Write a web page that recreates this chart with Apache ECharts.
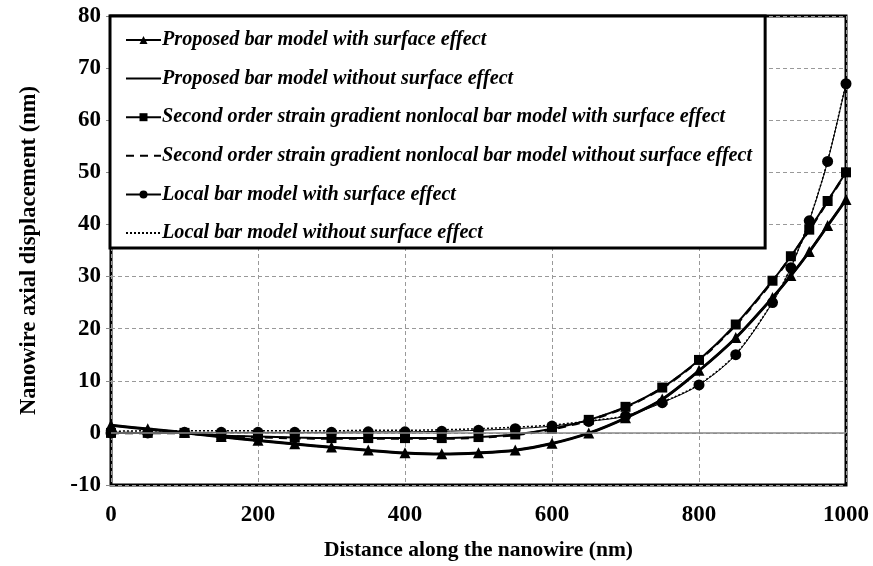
<!DOCTYPE html>
<html lang="en">
<head>
    <meta charset="UTF-8">
    <title>Nanowire axial displacement</title>
    <script src="https://cdn.jsdelivr.net/npm/echarts@6/dist/echarts.min.js"></script>
    <style>
        html, body { margin: 0; padding: 0; background: #fff; }
        #main { width: 873px; height: 566px; }
    </style>
</head>
<body>
<div id="main"></div>
<script>
    // positions along the wire (nm)
    var xs = [0, 50, 100, 150, 200, 250, 300, 350, 400, 450, 500, 550, 600, 650, 700, 750, 800, 850, 900, 925, 950, 975, 1000];

    // displacements (nm)
    var propWith    = [1.5, 0.8, 0.1, -0.7, -1.4, -2.1, -2.7, -3.3, -3.8, -4.0, -3.8, -3.3, -2.0, 0.0, 2.9, 6.5, 12.0, 18.3, 26.0, 30.2, 34.8, 39.8, 44.8];
    var propWithout = [1.4, 0.7, 0.0, -0.8, -1.5, -2.2, -2.8, -3.4, -3.9, -4.1, -3.9, -3.4, -2.1, -0.1, 2.8, 6.4, 11.9, 18.2, 25.9, 30.1, 34.7, 39.7, 44.7];
    var sogWith     = [0.0, 0.0, 0.0, -0.5, -0.7, -0.9, -1.0, -1.0, -1.0, -1.0, -0.8, -0.3, 0.8, 2.5, 5.0, 8.7, 14.0, 20.8, 29.2, 33.9, 39.0, 44.5, 50.0];
    var sogWithout  = [0.0, 0.0, -0.1, -0.6, -0.8, -1.0, -1.1, -1.1, -1.1, -1.1, -0.9, -0.4, 0.7, 2.4, 4.9, 8.6, 13.9, 20.7, 29.1, 33.8, 38.9, 44.4, 49.9];
    var localWith   = [0.0, 0.0, 0.1, 0.1, 0.1, 0.1, 0.1, 0.2, 0.2, 0.3, 0.5, 0.8, 1.3, 2.2, 3.2, 5.8, 9.2, 15.0, 25.0, 31.7, 40.7, 52.1, 67.0];
    var localWithout= [0.3, 0.4, 0.4, 0.4, 0.4, 0.4, 0.4, 0.5, 0.5, 0.6, 0.8, 1.1, 1.5, 2.3, 3.3, 5.9, 9.3, 15.1, 25.1, 31.8, 40.8, 52.2, 67.1];

    var names = [
        'Proposed bar model with surface effect',
        'Proposed bar model without surface effect',
        'Second order strain gradient nonlocal bar model with surface effect',
        'Second order strain gradient nonlocal bar model without surface effect',
        'Local bar model with surface effect',
        'Local bar model without surface effect'
    ];

    function pairs(ys) {
        return xs.map(function (x, i) { return [x, ys[i]]; });
    }

    var serif = '"Liberation Serif", "Times New Roman", serif';
    var noMark = 'rgba(0,0,0,0)';   // hides the legend dot of the plain-line series

    var myChart = echarts.init(document.getElementById('main'));
    var option = {
        animation: false,
        backgroundColor: '#fff',
        grid: {
            left: 111, right: 27, top: 16, bottom: 80,
            show: true, borderColor: '#000', borderWidth: 3
        },
        legend: {
            orient: 'vertical',
            left: 110, top: 16,
            padding: [14, 13, 5, 15],
            itemGap: 18.6,
            itemWidth: 35, itemHeight: 10,
            backgroundColor: '#fff',
            borderColor: '#000', borderWidth: 3,
            data: names,
            textStyle: {
                fontFamily: serif, fontStyle: 'italic', fontWeight: 'bold',
                fontSize: 20.2, lineHeight: 20, color: '#000', padding: [0, 0, 0, -4]
            }
        },
        xAxis: {
            type: 'value', min: 0, max: 1000, interval: 200,
            name: 'Distance along the nanowire (nm)',
            nameLocation: 'middle', nameGap: 54,
            nameTextStyle: { fontFamily: serif, fontWeight: 'bold', fontSize: 21.5, color: '#000' },
            axisLine: { show: false },
            axisTick: { show: false },
            axisLabel: {
                fontFamily: serif, fontWeight: 'bold', fontSize: 23, color: '#000', margin: 19,
                formatter: function (v) { return String(v); }
            },
            splitLine: { lineStyle: { color: '#999', type: [4, 3], width: 1 } }
        },
        yAxis: {
            type: 'value', min: -10, max: 80, interval: 10,
            name: 'Nanowire axial displacement (nm)',
            nameLocation: 'middle', nameGap: 70,
            nameTextStyle: { fontFamily: serif, fontWeight: 'bold', fontSize: 22.5, color: '#000' },
            axisLine: { show: false },
            axisTick: { show: true, length: 5, lineStyle: { color: '#888' } },
            axisLabel: { fontFamily: serif, fontWeight: 'bold', fontSize: 23, color: '#000', margin: 10 },
            splitLine: { lineStyle: { color: '#999', type: [4, 3], width: 1 } }
        },
        series: [
            {
                name: names[0], type: 'line', data: pairs(propWith), smooth: 0.3,
                symbol: 'triangle', symbolSize: 11, showAllSymbol: true,
                lineStyle: { color: '#000', width: 2.5 }, itemStyle: { color: '#000' },
                markLine: {
                    silent: true, symbol: 'none', label: { show: false },
                    lineStyle: { color: '#888', type: 'solid', width: 1.5 },
                    data: [{ yAxis: 0 }]
                }
            },
            {
                name: names[1], type: 'line', data: pairs(propWithout), smooth: 0.3,
                symbol: 'none',
                lineStyle: { color: '#000', width: 2.5 }, itemStyle: { color: noMark }
            },
            {
                name: names[2], type: 'line', data: pairs(sogWith), smooth: 0.3,
                symbol: 'rect', symbolSize: 10, showAllSymbol: true,
                lineStyle: { color: '#000', width: 2 }, itemStyle: { color: '#000' }
            },
            {
                name: names[3], type: 'line', data: pairs(sogWithout), smooth: 0.3,
                symbol: 'none',
                lineStyle: { color: '#000', width: 2.5, type: [8, 6] }, itemStyle: { color: noMark }
            },
            {
                name: names[4], type: 'line', data: pairs(localWith), smooth: 0.3,
                symbol: 'circle', symbolSize: 11, showAllSymbol: true,
                lineStyle: { color: '#000', width: 1 }, itemStyle: { color: '#000' }
            },
            {
                name: names[5], type: 'line', data: pairs(localWithout), smooth: 0.3,
                symbol: 'none',
                lineStyle: { color: '#000', width: 1.5, type: [2, 2] }, itemStyle: { color: noMark }
            }
        ]
    };
    myChart.setOption(option);
</script>
</body>
</html>
